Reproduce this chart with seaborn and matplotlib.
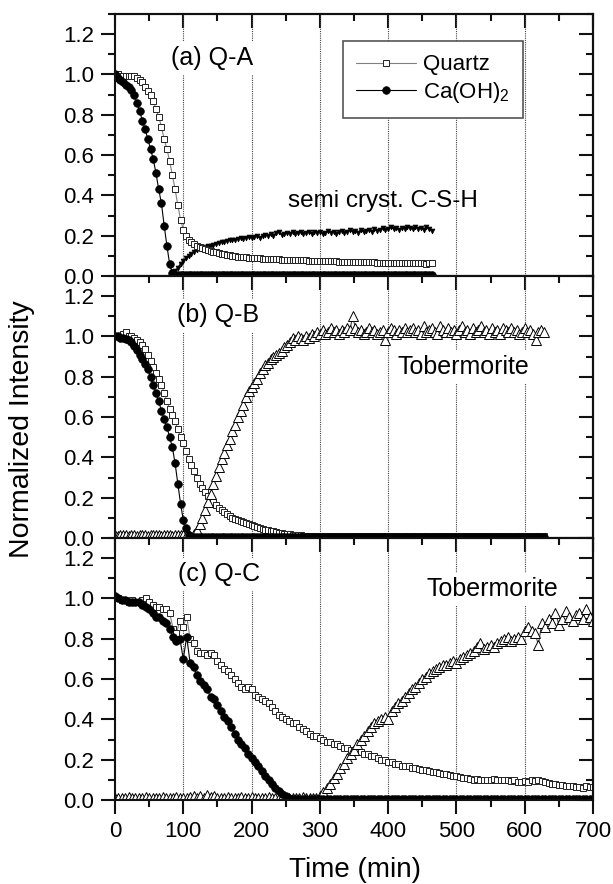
import numpy as np
import seaborn as sns
import matplotlib.pyplot as plt
from matplotlib.ticker import MultipleLocator, FormatStrFormatter

# time grids (min)
t_a = np.arange(0, 465, 4)
t_csh = np.arange(84, 465, 4)
t_b = np.arange(0, 629, 4)
t_c = np.arange(0, 701, 5)

# (a) Q-A
quartz_a = [1.00, 1.00, 0.99, 0.99, 0.99, 0.99, 0.99, 0.99, 0.98, 0.97, 0.96, 0.94, 0.92, 0.90, 0.87, 0.83,
            0.79, 0.74, 0.68, 0.63, 0.57, 0.50, 0.43, 0.35, 0.28, 0.23, 0.20, 0.18, 0.17, 0.16, 0.15, 0.145,
            0.14, 0.135, 0.13, 0.125, 0.12, 0.117, 0.113, 0.11, 0.107, 0.105, 0.102, 0.10, 0.098, 0.096, 0.094, 0.093,
            0.092, 0.09, 0.09, 0.089, 0.088, 0.087, 0.086, 0.085, 0.084, 0.083, 0.083, 0.082, 0.082, 0.081, 0.081, 0.080,
            0.080, 0.080, 0.079, 0.078, 0.078, 0.077, 0.077, 0.076, 0.075, 0.075, 0.075, 0.074, 0.074, 0.073, 0.073, 0.072,
            0.072, 0.072, 0.071, 0.071, 0.070, 0.070, 0.070, 0.070, 0.069, 0.069, 0.068, 0.068, 0.068, 0.067, 0.067, 0.067,
            0.066, 0.066, 0.066, 0.066, 0.066, 0.065, 0.065, 0.065, 0.064, 0.064, 0.064, 0.063, 0.063, 0.063, 0.062, 0.062,
            0.062, 0.062, 0.061, 0.062, 0.062]
caoh_a = [1.00, 0.98, 0.97, 0.96, 0.95, 0.94, 0.925, 0.90, 0.86, 0.82, 0.77, 0.73, 0.68, 0.63, 0.58, 0.51,
          0.43, 0.36, 0.25, 0.15, 0.06, 0.015, 0.005, 0.004, 0.004, 0.003, 0.004, 0.003, 0.003, 0.004, 0.003, 0.003,
          0.004, 0.003, 0.004, 0.004, 0.003, 0.004, 0.003, 0.004, 0.004, 0.003, 0.004, 0.003, 0.004, 0.004, 0.003, 0.004,
          0.003, 0.004, 0.004, 0.003, 0.004, 0.003, 0.004, 0.004, 0.003, 0.004, 0.003, 0.004, 0.004, 0.003, 0.004, 0.003,
          0.004, 0.004, 0.003, 0.004, 0.003, 0.004, 0.004, 0.003, 0.004, 0.003, 0.004, 0.004, 0.003, 0.004, 0.003, 0.004,
          0.004, 0.003, 0.004, 0.003, 0.004, 0.004, 0.003, 0.004, 0.003, 0.004, 0.004, 0.003, 0.004, 0.003, 0.004, 0.004,
          0.003, 0.004, 0.003, 0.004, 0.004, 0.003, 0.004, 0.003, 0.004, 0.004, 0.003, 0.004, 0.003, 0.004, 0.004, 0.003,
          0.004, 0.003, 0.004, 0.004, 0.003]
csh_a = [0.02, 0.025, 0.04, 0.06, 0.075, 0.09, 0.10, 0.11, 0.12, 0.13, 0.135, 0.14, 0.145, 0.15, 0.15, 0.155,
         0.16, 0.165, 0.17, 0.17, 0.175, 0.18, 0.18, 0.18, 0.185, 0.19, 0.185, 0.19, 0.195, 0.19, 0.195, 0.20,
         0.19, 0.20, 0.205, 0.20, 0.21, 0.20, 0.215, 0.22, 0.205, 0.21, 0.215, 0.21, 0.22, 0.21, 0.215, 0.22,
         0.21, 0.215, 0.22, 0.21, 0.22, 0.215, 0.22, 0.21, 0.215, 0.225, 0.215, 0.22, 0.21, 0.22, 0.225, 0.215,
         0.22, 0.23, 0.22, 0.225, 0.215, 0.23, 0.22, 0.225, 0.23, 0.22, 0.235, 0.225, 0.23, 0.24, 0.23, 0.235,
         0.245, 0.235, 0.24, 0.23, 0.24, 0.235, 0.245, 0.24, 0.235, 0.245, 0.235, 0.24, 0.23, 0.245, 0.235, 0.225]

# (b) Q-B
quartz_b = [1.00, 1.00, 1.00, 1.01, 1.02, 1.00, 1.00, 0.99, 0.98, 0.97, 0.96, 0.94, 0.91, 0.88, 0.85, 0.82,
            0.79, 0.76, 0.72, 0.68, 0.64, 0.61, 0.58, 0.54, 0.50, 0.47, 0.43, 0.39, 0.36, 0.33, 0.30, 0.27,
            0.25, 0.23, 0.21, 0.195, 0.18, 0.165, 0.15, 0.14, 0.13, 0.12, 0.11, 0.10, 0.095, 0.09, 0.083, 0.077,
            0.072, 0.068, 0.063, 0.058, 0.054, 0.05, 0.046, 0.042, 0.04, 0.036, 0.033, 0.03, 0.027, 0.025, 0.022, 0.02,
            0.018, 0.016, 0.015, 0.014, 0.013, 0.012, 0.011, 0.011, 0.010, 0.010, 0.010, 0.010, 0.009, 0.010, 0.009, 0.010,
            0.010, 0.009, 0.010, 0.010, 0.009, 0.010, 0.009, 0.010, 0.010, 0.009, 0.010, 0.009, 0.010, 0.010, 0.009, 0.010,
            0.009, 0.010, 0.010, 0.009, 0.010, 0.009, 0.010, 0.010, 0.009, 0.010, 0.009, 0.010, 0.010, 0.009, 0.010, 0.009,
            0.010, 0.010, 0.009, 0.010, 0.009, 0.010, 0.010, 0.009, 0.010, 0.009, 0.010, 0.010, 0.009, 0.010, 0.009, 0.010,
            0.010, 0.009, 0.010, 0.009, 0.010, 0.010, 0.009, 0.010, 0.009, 0.010, 0.010, 0.009, 0.010, 0.009, 0.010, 0.010,
            0.009, 0.010, 0.009, 0.010, 0.010, 0.009, 0.010, 0.009, 0.010, 0.010, 0.009, 0.010, 0.009, 0.010]
caoh_b = [1.00, 1.00, 0.99, 0.99, 0.985, 0.98, 0.97, 0.955, 0.935, 0.91, 0.89, 0.865, 0.84, 0.80, 0.76, 0.72,
          0.68, 0.63, 0.59, 0.55, 0.50, 0.45, 0.37, 0.27, 0.17, 0.09, 0.05, 0.015, 0.005, 0.004, 0.004, 0.005,
          0.004, 0.003, 0.004, 0.004, 0.003, 0.004, 0.003, 0.004, 0.004, 0.003, 0.004, 0.003, 0.004, 0.004, 0.003, 0.004,
          0.003, 0.004, 0.004, 0.003, 0.004, 0.003, 0.004, 0.004, 0.003, 0.004, 0.003, 0.004, 0.004, 0.003, 0.004, 0.003,
          0.004, 0.004, 0.003, 0.004, 0.003, 0.004, 0.004, 0.003, 0.004, 0.003, 0.004, 0.004, 0.003, 0.004, 0.003, 0.004,
          0.004, 0.003, 0.004, 0.003, 0.004, 0.004, 0.003, 0.004, 0.003, 0.004, 0.004, 0.003, 0.004, 0.003, 0.004, 0.004,
          0.003, 0.004, 0.003, 0.004, 0.004, 0.003, 0.004, 0.003, 0.004, 0.004, 0.003, 0.004, 0.003, 0.004, 0.004, 0.003,
          0.004, 0.003, 0.004, 0.004, 0.003, 0.004, 0.003, 0.004, 0.004, 0.003, 0.004, 0.003, 0.004, 0.004, 0.003, 0.004,
          0.003, 0.004, 0.004, 0.003, 0.004, 0.003, 0.004, 0.004, 0.003, 0.004, 0.003, 0.004, 0.004, 0.003, 0.004, 0.003,
          0.004, 0.004, 0.003, 0.004, 0.003, 0.004, 0.004, 0.003, 0.004, 0.003, 0.004, 0.004, 0.003, 0.004]
tob_b = [0.015, 0.012, 0.015, 0.013, 0.016, 0.012, 0.014, 0.015, 0.012, 0.016, 0.013, 0.015, 0.012, 0.014, 0.016, 0.013,
         0.015, 0.012, 0.016, 0.013, 0.014, 0.012, 0.015, 0.013, 0.016, 0.014, 0.012, 0.013, 0.005, 0.02, 0.04, 0.07,
         0.10, 0.14, 0.18, 0.22, 0.27, 0.31, 0.35, 0.39, 0.42, 0.46, 0.49, 0.53, 0.56, 0.60, 0.63, 0.66,
         0.70, 0.73, 0.75, 0.77, 0.79, 0.82, 0.84, 0.86, 0.87, 0.89, 0.90, 0.91, 0.92, 0.93, 0.95, 0.96,
         0.97, 0.99, 0.98, 1.00, 0.99, 0.98, 1.00, 0.99, 1.01, 1.00, 1.02, 1.01, 1.03, 1.01, 1.02, 1.04,
         1.02, 1.03, 1.01, 1.03, 1.02, 1.04, 1.03, 1.10, 1.04, 1.02, 1.03, 1.01, 1.02, 1.04, 1.02, 1.03,
         1.01, 1.02, 1.03, 0.98, 1.02, 1.04, 1.03, 1.01, 1.03, 1.02, 1.04, 1.02, 1.03, 1.04, 1.02, 1.03,
         1.01, 1.05, 1.02, 1.03, 1.04, 1.02, 1.01, 1.05, 1.03, 1.02, 1.04, 1.02, 1.03, 1.01, 1.03, 1.05,
         1.02, 1.03, 1.01, 1.04, 1.02, 1.03, 1.05, 1.02, 1.03, 1.01, 1.04, 1.02, 1.03, 1.01, 1.04, 1.03,
         1.02, 1.04, 1.02, 1.03, 1.01, 1.02, 1.04, 1.02, 1.03, 1.01, 0.98, 1.02, 1.03, 1.02]

# (c) Q-C
quartz_c = [1.00, 1.00, 0.99, 0.99, 0.98, 0.99, 0.98, 0.98, 0.99, 1.00, 0.98, 0.97, 0.96, 0.96, 0.95, 0.95, 0.93, 0.85, 0.83, 0.89,
            0.86, 0.91, 0.80, 0.78, 0.74, 0.73, 0.73, 0.72, 0.73, 0.72, 0.69, 0.67, 0.65, 0.64, 0.62, 0.60, 0.58, 0.56, 0.55, 0.56,
            0.55, 0.52, 0.51, 0.50, 0.49, 0.48, 0.46, 0.44, 0.42, 0.41, 0.40, 0.39, 0.38, 0.38, 0.36, 0.35, 0.34, 0.33, 0.32, 0.32,
            0.31, 0.30, 0.29, 0.29, 0.28, 0.28, 0.27, 0.26, 0.26, 0.25, 0.25, 0.25, 0.24, 0.23, 0.23, 0.22, 0.22, 0.21, 0.20, 0.20,
            0.19, 0.19, 0.18, 0.18, 0.17, 0.17, 0.17, 0.16, 0.16, 0.155, 0.15, 0.15, 0.145, 0.14, 0.14, 0.135, 0.13, 0.13, 0.125, 0.12,
            0.12, 0.115, 0.11, 0.11, 0.105, 0.10, 0.105, 0.10, 0.10, 0.10, 0.10, 0.105, 0.10, 0.10, 0.10, 0.10, 0.095, 0.10, 0.09, 0.09,
            0.095, 0.09, 0.10, 0.095, 0.10, 0.095, 0.09, 0.085, 0.08, 0.08, 0.075, 0.075, 0.07, 0.07, 0.07, 0.065, 0.065, 0.06, 0.07, 0.065,
            0.065]
caoh_c = [1.01, 1.00, 0.99, 0.99, 0.98, 0.98, 0.98, 0.98, 0.97, 0.96, 0.95, 0.93, 0.91, 0.91, 0.89, 0.88, 0.85, 0.81, 0.79, 0.80,
          0.70, 0.81, 0.68, 0.66, 0.62, 0.59, 0.57, 0.55, 0.51, 0.50, 0.47, 0.44, 0.41, 0.39, 0.36, 0.33, 0.30, 0.28, 0.26, 0.23,
          0.21, 0.19, 0.17, 0.145, 0.12, 0.10, 0.08, 0.06, 0.045, 0.03, 0.02, 0.01, 0.005, 0.004, 0.003, 0.004, 0.004, 0.003, 0.004, 0.003,
          0.004, 0.004, 0.003, 0.004, 0.003, 0.004, 0.004, 0.003, 0.004, 0.003, 0.004, 0.004, 0.003, 0.004, 0.003, 0.004, 0.004, 0.003, 0.004, 0.003,
          0.004, 0.004, 0.003, 0.004, 0.003, 0.004, 0.004, 0.003, 0.004, 0.003, 0.004, 0.004, 0.003, 0.004, 0.003, 0.004, 0.004, 0.003, 0.004, 0.003,
          0.004, 0.004, 0.003, 0.004, 0.003, 0.004, 0.004, 0.003, 0.004, 0.003, 0.004, 0.004, 0.003, 0.004, 0.003, 0.004, 0.004, 0.003, 0.004, 0.003,
          0.004, 0.004, 0.003, 0.004, 0.003, 0.004, 0.004, 0.003, 0.004, 0.003, 0.004, 0.004, 0.003, 0.004, 0.003, 0.004, 0.004, 0.003, 0.004, 0.003,
          0.004]
tob_c = [0.01, 0.012, 0.01, 0.011, 0.013, 0.01, 0.012, 0.01, 0.011, 0.013, 0.01, 0.012, 0.011, 0.01, 0.013, 0.011, 0.01, 0.012, 0.015, 0.01,
         0.012, 0.01, 0.013, 0.018, 0.011, 0.02, 0.012, 0.025, 0.015, 0.022, 0.01, 0.012, 0.011, 0.013, 0.01, 0.012, 0.011, 0.015, 0.012, 0.01,
         0.013, 0.01, 0.012, 0.011, 0.01, 0.013, 0.012, 0.01, 0.011, 0.013, 0.01, 0.012, 0.011, 0.01, 0.012, 0.013, 0.011, 0.01, 0.012, 0.011,
         0.02, 0.04, 0.06, 0.08, 0.11, 0.13, 0.16, 0.18, 0.21, 0.23, 0.25, 0.28, 0.30, 0.32, 0.34, 0.36, 0.38, 0.39, 0.40, 0.41,
         0.40, 0.44, 0.46, 0.48, 0.49, 0.51, 0.53, 0.55, 0.56, 0.58, 0.60, 0.61, 0.63, 0.64, 0.65, 0.66, 0.67, 0.67, 0.68, 0.69,
         0.68, 0.70, 0.71, 0.72, 0.73, 0.74, 0.76, 0.78, 0.75, 0.76, 0.77, 0.76, 0.78, 0.79, 0.80, 0.81, 0.79, 0.80, 0.81, 0.80,
         0.84, 0.86, 0.84, 0.83, 0.77, 0.88, 0.86, 0.90, 0.88, 0.93, 0.87, 0.90, 0.94, 0.91, 0.89, 0.92, 0.93, 0.90, 0.95, 0.91,
         0.89]

grid_x = [100, 200, 300, 400, 500, 600]

sns.set_theme(style="ticks")
plt.rcParams['font.family'] = ['Liberation Sans', 'DejaVu Sans']
plt.rcParams['mathtext.fontset'] = 'custom'
plt.rcParams['mathtext.rm'] = 'Liberation Sans'
plt.rcParams['mathtext.it'] = 'Liberation Sans:italic'
plt.rcParams['text.color'] = 'black'
plt.rcParams['axes.labelcolor'] = 'black'
plt.rcParams['xtick.labelcolor'] = 'black'
plt.rcParams['ytick.labelcolor'] = 'black'

quartz_style = dict(marker='s', markersize=5, markerfacecolor='white', markeredgecolor='#222222',
                    markeredgewidth=0.7, color='#808080', linewidth=0.8)
caoh_style = dict(marker='o', markersize=5.5, markerfacecolor='black', markeredgecolor='black',
                  markeredgewidth=0.5, color='black', linewidth=0.8)
tob_style = dict(marker='^', markersize=6.5, markerfacecolor='white', markeredgecolor='black',
                 markeredgewidth=0.7, color='#444444', linewidth=0.8)
csh_style = dict(marker='v', markersize=3.5, markerfacecolor='black', markeredgecolor='black',
                 markeredgewidth=0.5, color='black', linewidth=1.0)

fig = plt.figure(figsize=(6.13, 8.84), dpi=100)
left, width, height = 0.1876, 0.7798, 0.2964
bottoms = [0.6878, 0.3914, 0.0950]
axes = [fig.add_axes([left, b, width, height]) for b in bottoms]


def style_axis(ax, show_xlabels):
    ax.set_xlim(0, 700)
    ax.set_ylim(0, 1.3)
    ax.set_yticks([0.0, 0.2, 0.4, 0.6, 0.8, 1.0, 1.2])
    ax.set_xticks([0, 100, 200, 300, 400, 500, 600, 700])
    ax.yaxis.set_major_formatter(FormatStrFormatter('%.1f'))
    ax.xaxis.set_minor_locator(MultipleLocator(50))
    ax.yaxis.set_minor_locator(MultipleLocator(0.1))
    ax.tick_params(which='major', direction='out', length=10, width=1.5, labelsize=16, color='#111111', pad=5)
    ax.tick_params(which='minor', direction='out', length=5, width=1.5, color='#111111')
    ax.tick_params(axis='x', labelbottom=show_xlabels)
    for s in ax.spines.values():
        s.set_linewidth(1.5)
        s.set_color('#111111')
    for xv in grid_x:
        ax.axvline(xv, color='#444444', lw=0.8, ls=(0, (1, 1)), zorder=0.5)
    top = ax.secondary_xaxis('top')
    top.set_xticks([0, 100, 200, 300, 400, 500, 600, 700])
    top.xaxis.set_minor_locator(MultipleLocator(50))
    top.tick_params(which='major', direction='in', length=10, width=1.5, labeltop=False, color='#111111')
    top.tick_params(which='minor', direction='in', length=5, width=1.5, color='#111111')
    right = ax.secondary_yaxis('right')
    right.set_yticks([0.0, 0.2, 0.4, 0.6, 0.8, 1.0, 1.2])
    right.yaxis.set_minor_locator(MultipleLocator(0.1))
    right.tick_params(which='major', direction='in', length=10, width=1.5, labelright=False, color='#111111')
    right.tick_params(which='minor', direction='in', length=5, width=1.5, color='#111111')
    for sec in (top, right):
        for s in sec.spines.values():
            s.set_linewidth(1.5)
            s.set_color('#111111')


txt_box = dict(facecolor='white', edgecolor='none', pad=3)

# panel (a)
ax = axes[0]
style_axis(ax, False)
sns.lineplot(x=t_csh, y=csh_a, ax=ax, **csh_style)
sns.lineplot(x=t_a, y=quartz_a, ax=ax, label='Quartz', **quartz_style)
sns.lineplot(x=t_a, y=caoh_a, ax=ax, label='Ca(OH)$_2$', **caoh_style)
ax.text(82, 1.08, '(a) Q-A', fontsize=18, ha='left', va='center', bbox=txt_box, zorder=3)
ax.text(254, 0.37, 'semi cryst. C-S-H', fontsize=17.5, ha='left', va='center', zorder=3)
lines = ax.get_lines()
handles = [l for l in lines if l.get_label() in ('Quartz', 'Ca(OH)$_2$')]
leg = ax.legend(handles=handles, labels=['Quartz', 'Ca(OH)$_2$'], loc='upper left',
                bbox_to_anchor=(0.477, 0.897), borderaxespad=0, fontsize=16, frameon=True,
                fancybox=False, framealpha=1, edgecolor='#555555', handlelength=2.7,
                handletextpad=0.3, borderpad=0.6, labelspacing=0.2)
leg.get_frame().set_linewidth(1.2)
leg.set_zorder(5)

# panel (b)
ax = axes[1]
style_axis(ax, False)
sns.lineplot(x=t_b, y=quartz_b, ax=ax, **quartz_style)
sns.lineplot(x=t_b, y=tob_b, ax=ax, **tob_style)
sns.lineplot(x=t_b, y=caoh_b, ax=ax, **caoh_style)
ax.text(91, 1.105, '(b) Q-B', fontsize=18, ha='left', va='center', bbox=txt_box, zorder=3)
ax.text(414, 0.85, 'Tobermorite', fontsize=18, ha='left', va='center', bbox=txt_box, zorder=3)

# panel (c)
ax = axes[2]
style_axis(ax, True)
sns.lineplot(x=t_c, y=quartz_c, ax=ax, **quartz_style)
sns.lineplot(x=t_c, y=tob_c, ax=ax, **tob_style)
sns.lineplot(x=t_c, y=caoh_c, ax=ax, **caoh_style)
ax.text(92, 1.12, '(c) Q-C', fontsize=18, ha='left', va='center', bbox=txt_box, zorder=3)
ax.text(456, 1.046, 'Tobermorite', fontsize=18, ha='left', va='center', bbox=txt_box, zorder=3)

for a in axes:
    a.set_xlabel('')
    a.set_ylabel('')

fig.text(0.036, 0.514, 'Normalized Intensity', rotation=90, fontsize=20.5, ha='center', va='center')
fig.text(0.579, 0.016, 'Time (min)', fontsize=20, ha='center', va='center')

fig.savefig('out.png', dpi=100, facecolor='white')
